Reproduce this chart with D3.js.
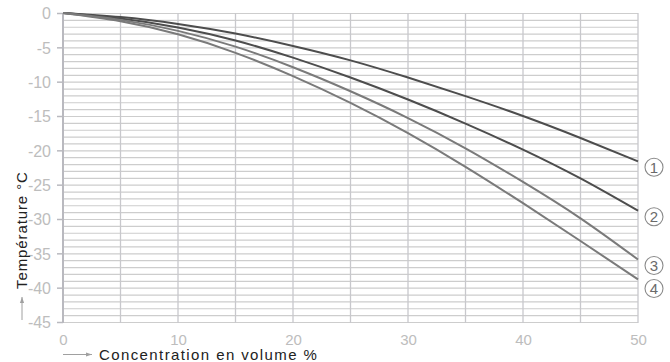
<!DOCTYPE html>
<html>
<head>
<meta charset="utf-8">
<script src="https://cdn.jsdelivr.net/npm/d3@7"></script>
<style>
  html, body { margin: 0; padding: 0; background: #fff; }
  svg { display: block; }
</style>
</head>
<body>
<svg id="chart" width="670" height="362"></svg>
<script>
// Concentration (% by volume) at each reading
const concentration = [0, 5, 10, 15, 20, 25, 30, 35, 40, 45, 50];
// Freezing temperature (°C) for the four products
const curve1 = [0, -0.6, -1.6, -3.0, -4.8, -6.9, -9.4, -12.1, -15.0, -18.2, -21.6];
const curve2 = [0, -0.8, -2.1, -4.0, -6.5, -9.4, -12.6, -16.1, -19.9, -24.1, -28.8];
const curve3 = [0, -1.0, -2.6, -4.9, -7.9, -11.4, -15.3, -19.7, -24.6, -29.9, -35.9];
const curve4 = [0, -1.2, -3.1, -5.8, -9.2, -13.1, -17.5, -22.4, -27.7, -33.2, -38.8];
const curveLabels = ["1", "2", "3", "4"];
const xTicks = [0, 10, 20, 30, 40, 50];
const yTicks = [0, -5, -10, -15, -20, -25, -30, -35, -40, -45];

const series = [curve1, curve2, curve3, curve4];
const curveColors = ["#4d4d4d", "#4d4d4d", "#7a7a7a", "#7a7a7a"];

const svg = d3.select("#chart");
const m = { left: 63, top: 13, right: 638, bottom: 322 };

const x = d3.scaleLinear().domain([0, 50]).range([m.left, m.right]);
const y = d3.scaleLinear().domain([0, -45]).range([m.top, m.bottom]);

const tickFont = "'Liberation Sans Narrow', 'Arial Narrow', 'Liberation Sans', sans-serif";

// Fine horizontal grid, one line per degree
const grid = svg.append("g");
grid.selectAll("line.h")
  .data(d3.range(0, -46, -1))
  .join("line")
  .attr("x1", m.left).attr("x2", m.right)
  .attr("y1", d => y(d) + 0.5).attr("y2", d => y(d) + 0.5)
  .attr("stroke", "#cdcdcd").attr("stroke-width", 1.2);

// Vertical grid every 5 %
grid.selectAll("line.v")
  .data(d3.range(5, 51, 5))
  .join("line")
  .attr("x1", d => x(d)).attr("x2", d => x(d))
  .attr("y1", m.top).attr("y2", m.bottom + 1)
  .attr("stroke", "#c8c8cc").attr("stroke-width", 1.3);

// Left axis with outward ticks
const yAxis = d3.axisLeft(y).tickValues(yTicks).tickSize(6).tickPadding(6)
  .tickFormat(d => d === 0 ? "0" : String(d));
const ya = svg.append("g").attr("transform", `translate(${m.left},0)`).call(yAxis);
ya.select(".domain").attr("stroke", "#b9b9bf").attr("stroke-width", 2)
  .attr("d", `M0,${m.top}V${m.bottom + 1}`);
ya.selectAll(".tick line").attr("stroke", "#b9b9bf").attr("stroke-width", 1.5);
ya.selectAll(".tick text")
  .attr("fill", "#bdbdbd").style("font-family", tickFont).style("font-size", "16px")
  .attr("dy", "0.36em");

// Bottom tick labels only
const xAxis = d3.axisBottom(x).tickValues(xTicks).tickSize(0).tickPadding(12);
const xa = svg.append("g").attr("transform", `translate(0,${m.bottom})`).call(xAxis);
xa.select(".domain").remove();
xa.selectAll(".tick text")
  .attr("fill", "#bdbdbd").style("font-family", tickFont).style("font-size", "15px");

// Curves
const line = d3.line()
  .x((d, i) => x(concentration[i]))
  .y(d => y(d))
  .curve(d3.curveNatural);

svg.append("g").selectAll("path")
  .data(series)
  .join("path")
  .attr("d", d => line(d))
  .attr("fill", "none")
  .attr("stroke", (d, i) => curveColors[i])
  .attr("stroke-width", 2);

// Circled curve numbers at the right end, spread apart so they do not overlap
let prev = -Infinity;
const labelPos = series.map(s => {
  let cy = y(s[s.length - 1]) + 6;
  if (cy < prev + 23) cy = prev + 23;
  prev = cy;
  return cy;
});
const lab = svg.append("g").selectAll("g")
  .data(curveLabels)
  .join("g")
  .attr("transform", (d, i) => `translate(654,${labelPos[i]})`);
lab.append("circle").attr("r", 9).attr("fill", "#fff")
  .attr("stroke", "#8a8a8a").attr("stroke-width", 1.1);
lab.append("text").text(d => d)
  .attr("text-anchor", "middle").attr("dy", "0.36em")
  .attr("fill", "#6a6a6a")
  .style("font-family", "'Liberation Sans', Arial, sans-serif").style("font-size", "15px");

// Axis titles with arrows
const arrowColor = "#a0a0a0";
const defs = svg.append("defs");
defs.append("marker").attr("id", "arr").attr("viewBox", "0 0 10 10")
  .attr("refX", 10).attr("refY", 5).attr("markerWidth", 6).attr("markerHeight", 6)
  .attr("orient", "auto")
  .append("path").attr("d", "M0,1.5L10,5L0,8.5Z").attr("fill", arrowColor);

svg.append("line").attr("x1", 22).attr("x2", 22).attr("y1", 320).attr("y2", 297)
  .attr("stroke", arrowColor).attr("stroke-width", 1).attr("marker-end", "url(#arr)");
svg.append("text")
  .attr("transform", "translate(27,289) rotate(-90)")
  .attr("fill", "#222")
  .style("font-family", "'Liberation Sans', Arial, sans-serif").style("font-size", "15px")
  .style("letter-spacing", "0.9px")
  .text("Température °C");

svg.append("line").attr("x1", 63).attr("x2", 92).attr("y1", 354.5).attr("y2", 354.5)
  .attr("stroke", arrowColor).attr("stroke-width", 1).attr("marker-end", "url(#arr)");
svg.append("text")
  .attr("x", 99).attr("y", 360)
  .attr("fill", "#222")
  .style("font-family", "'Liberation Sans', Arial, sans-serif").style("font-size", "15px")
  .style("letter-spacing", "1.4px")
  .text("Concentration en volume %");
</script>
</body>
</html>
